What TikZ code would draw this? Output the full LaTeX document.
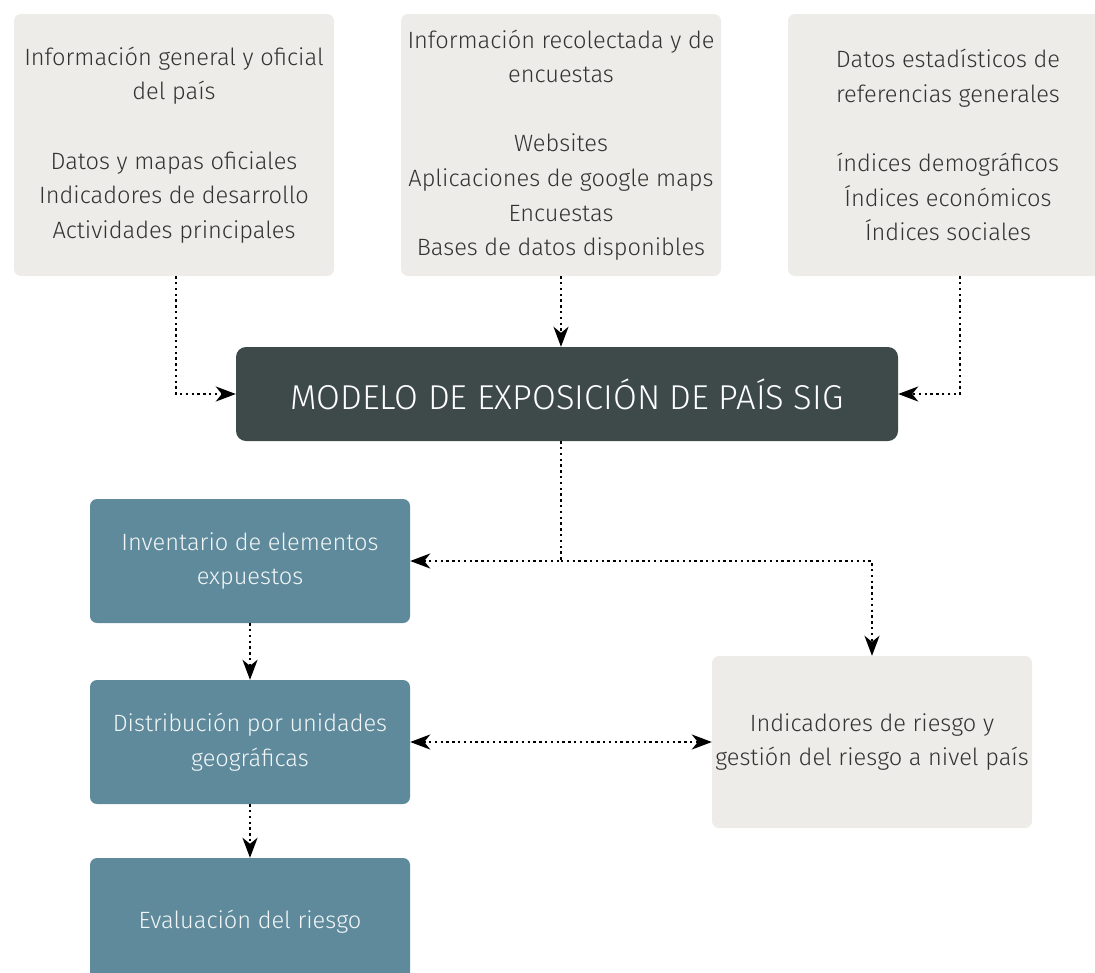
\documentclass[tikz,border=0pt]{standalone}
\usepackage{fontspec}
\setmainfont{Fira Sans Light}
\usepackage{tikz}
\usetikzlibrary{arrows.meta,positioning}
\definecolor{boxgray}{HTML}{EDECE8}
\definecolor{modeldark}{HTML}{3E4A4A}
\definecolor{stageblue}{HTML}{5E8A9C}
\definecolor{textgray}{HTML}{333333}

\tikzset{
  srcbox/.style={fill=boxgray, rounded corners=7pt, minimum width=320pt,
    align=center, text=textgray, inner sep=0pt,
    font=\fontsize{23.6}{34.6}\selectfont},
  stagebox/.style={fill=stageblue, rounded corners=7pt, minimum width=320pt,
    align=center, text=white!92!stageblue, inner sep=0pt,
    font=\fontsize{23.6}{34.6}\selectfont},
  flow/.style={line width=2.4pt, dash pattern=on 2.4pt off 3.4pt,
    -{Stealth[length=20pt,width=15pt,inset=6pt]}},
}

\begin{document}
\begin{tikzpicture}[x=1pt,y=-1pt]
  \useasboundingbox (0,0) rectangle (1095,972);
  \clip (0,0) rectangle (1095,972);
  % Fuentes de informacion
  \node[srcbox, minimum height=262pt] (src1) at (174,145)
    {Información general y oficial\\del país\\[34.6pt]Datos y mapas oficiales\\Indicadores de desarrollo\\Actividades principales};
  \node[srcbox, minimum height=262pt] (src2) at (561,145)
    {Información recolectada y de\\encuestas\\[34.6pt]Websites\\Aplicaciones de google maps\\Encuestas\\Bases de datos disponibles};
  \node[srcbox, minimum height=262pt] (src3) at (948,145)
    {Datos estadísticos de\\referencias generales\\[34.6pt]índices demográficos\\Índices económicos\\Índices sociales};
  % Modelo
  \node[fill=modeldark, rounded corners=10pt, minimum width=662pt, minimum height=94pt,
    text=white, font=\fontsize{34.5}{40}\selectfont] (model) at (567,394)
    {MODELO DE EXPOSICIÓN DE PAÍS SIG};
  % Etapas
  \node[stagebox, minimum height=124pt] (invent) at (250,561) {Inventario de elementos\\expuestos};
  \node[stagebox, minimum height=124pt] (distrib) at (250,742) {Distribución por unidades\\geográficas};
  \node[stagebox, minimum height=128pt] (evalr) at (250,922) {Evaluación del riesgo};
  \node[srcbox, minimum height=172pt] (risk) at (872,742)
    {Indicadores de riesgo y\\gestión del riesgo a nivel país};
  % Conectores
  \draw[flow] ([xshift=2pt]src1.south) |- (model.west);
  \draw[flow] (src2.south) -- (src2.south |- model.north);
  \draw[flow] ([xshift=12pt]src3.south) |- (model.east);
  \coordinate (split) at (src2.south |- invent.east);
  \draw[flow] (src2.south |- model.south) |- (invent.east);
  \draw[flow] (split) -| (risk.north);
  \draw[flow] (invent.south) -- (distrib.north);
  \draw[flow, {Stealth[length=20pt,width=15pt,inset=6pt]}-{Stealth[length=20pt,width=15pt,inset=6pt]}] (distrib.east) -- (risk.west);
  \draw[flow] (distrib.south) -- (evalr.north);
\end{tikzpicture}
\end{document}
